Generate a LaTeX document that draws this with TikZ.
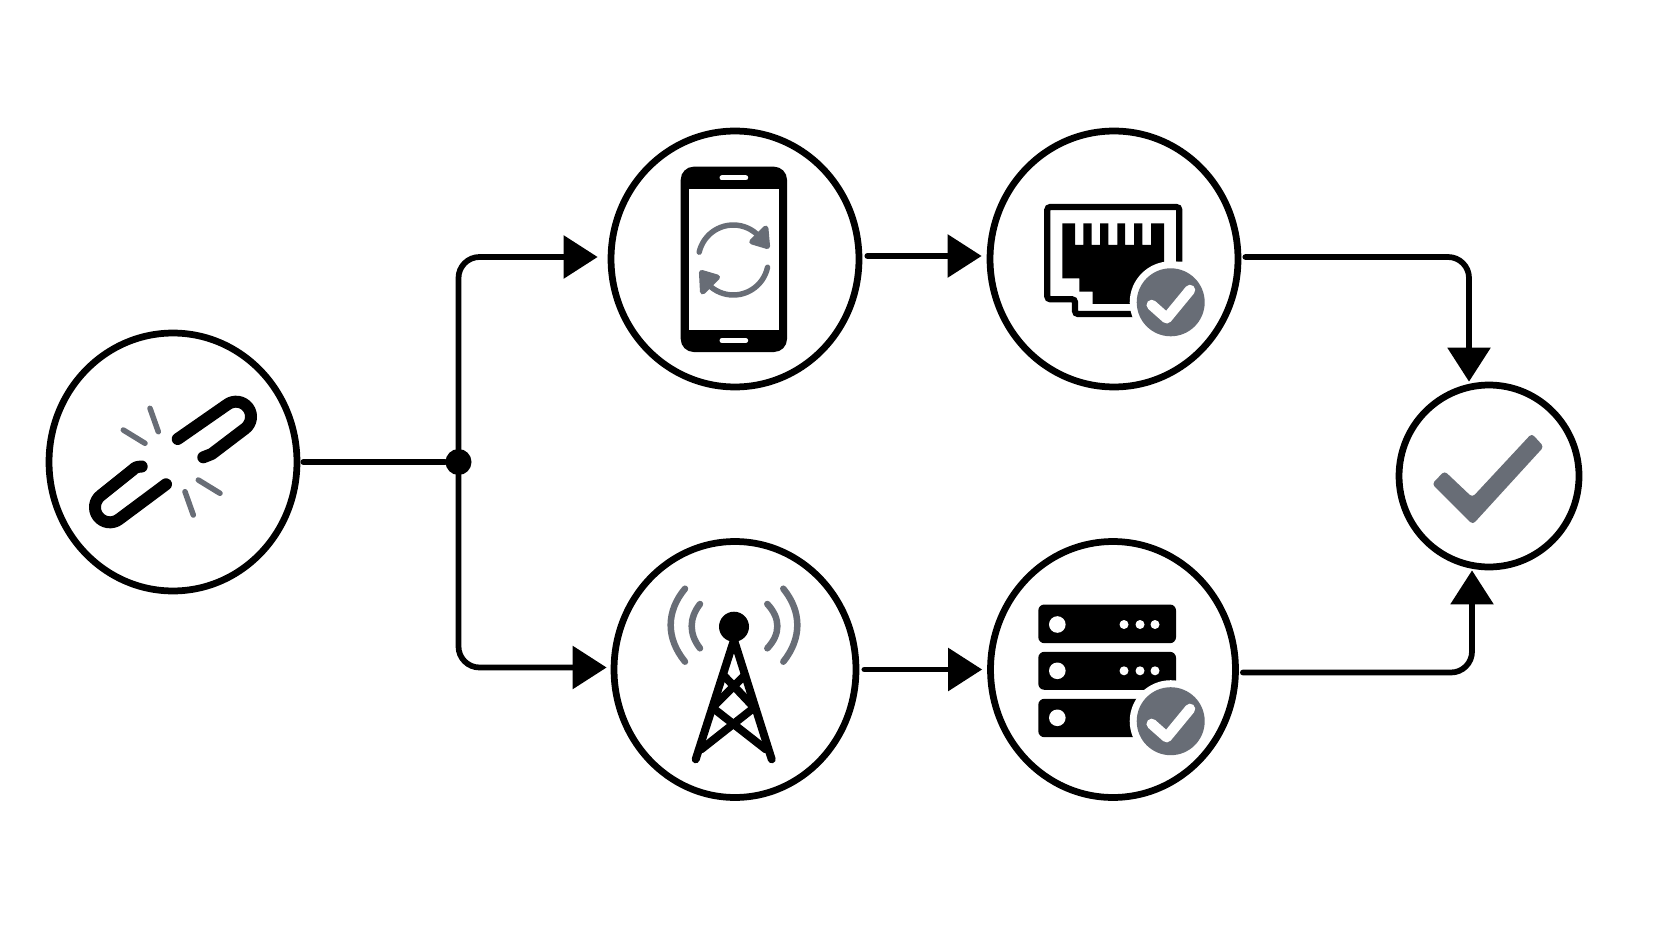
\documentclass[tikz,border=0pt]{standalone}
\usetikzlibrary{arrows.meta,shapes.geometric,calc}
\definecolor{GrisIcono}{RGB}{104,109,118}
\tikzset{
  ringbox/.style={ellipse, draw=black, line width=0.135cm, fill=white, inner sep=0pt,
    minimum width=#1},
  ringbox/.default=4.96cm,
  linkarr/.style={-{Triangle[length=0.68cm, width=0.84cm]}, line width=0.115cm, line cap=round, black},
  linkline/.style={line width=0.115cm, line cap=round, black},
  dotnode/.style={circle, fill=black, minimum size=0.52cm, inner sep=0pt},
  iconline/.style={line width=0.24cm, line cap=round, line join=round, black},
  towerline/.style={line width=0.16cm, line cap=round, line join=round, black},
  greyline/.style={line width=0.11cm, line cap=round, line join=round, GrisIcono},
  wave/.style={line width=0.13cm, line cap=round, GrisIcono},
  slotline/.style={line width=0.1cm, line cap=round, white},
  tickline/.style={line width=0.21cm, line cap=round, line join=round, white},
}
% grey disc with white tick, its white halo cuts the icon below
\newcommand{\okbadge}[2]{
  \fill[white] (#1,#2) circle (0.82cm);
  \fill[GrisIcono] (#1,#2) circle (0.68cm);
  \draw[tickline] ($(#1,#2)+(-19,-2.7)$) -- ($(#1,#2)+(-4,-16)$) -- ($(#1,#2)+(19.3,12.3)$);
}
\begin{document}
\begin{tikzpicture}[x=0.02cm, y=0.02cm]
  \useasboundingbox (0,0) rectangle (1672,941);
  \node[ringbox, minimum height=5.16cm] (link) at (173,479) {};
  \node[ringbox, minimum height=5.12cm] (phone) at (735,682) {};
  \node[ringbox, minimum height=5.12cm] (rj45) at (1114,682) {};
  \node[ringbox=4.84cm, minimum height=5.12cm] (tower) at (735,271.5) {};
  \node[ringbox=4.9cm, minimum height=5.12cm] (server) at (1113,271.5) {};
  \node[ringbox=3.6cm, minimum height=3.64cm] (check) at (1489,465) {};
  \node[dotnode] (junc) at (458.5,479) {};

  \draw[linkline, shorten <=0.06cm] (link.east) -- (junc);
  \draw[linkarr, rounded corners=0.42cm, shorten >=0.2cm] (junc.center) |- ([yshift=0.04cm]phone.west);
  \draw[linkarr, rounded corners=0.42cm, shorten >=0.08cm] (junc.center) |- ([yshift=0.04cm]tower.west);
  \draw[linkarr, shorten <=0.1cm, shorten >=0.1cm] ([yshift=0.06cm]phone.east) -- ([yshift=0.06cm]rj45.west);
  \draw[linkarr, shorten <=0.1cm, shorten >=0.1cm] (tower.east) -- (server.west);
  \draw[linkarr, rounded corners=0.42cm, shorten <=0.08cm] ([yshift=0.04cm]rj45.east) -| ([xshift=-0.4cm]check.north);
  \draw[linkarr, rounded corners=0.42cm, shorten <=0.08cm] ([yshift=-0.06cm]server.east) -| ([xshift=-0.34cm]check.south);

  % broken link
  \begin{scope}[shift={(link.center)}]
    \draw[iconline] (4.7,23) -- (54,57.3) arc[start angle=127, end angle=-53, radius=0.3cm]
      -- (38.7,8) .. controls (35,5.5) .. (30.3,4.7);
    \draw[iconline] (-7,-22.3) -- (-54,-57.3) arc[start angle=-53, end angle=-233, radius=0.3cm]
      -- (-41,-8.5) .. controls (-37,-5) .. (-31.3,-4.5);
    \draw[greyline] (-23,53.7) -- (-14.7,30.3);
    \draw[greyline] (-49.7,32) -- (-28,18.7);
    \draw[greyline] (12,-29.7) -- (20.3,-53);
    \draw[greyline] (25.3,-18) -- (47,-31.3);
  \end{scope}

  % phone with sync arrows
  \begin{scope}[shift={(phone.center)}]
    \fill[black, rounded corners=0.26cm] (-54.3,-93) rectangle (52,92.3);
    \fill[white] (-46.3,-71) rectangle (44.3,70.3);
    \draw[slotline] (-13,81) -- (10.7,81);
    \draw[slotline] (-13,-81.5) -- (10.7,-81.5);
    \draw[greyline] (-1.7,-1) ++(167:35) arc[start angle=167, end angle=30, radius=0.7cm];
    \draw[greyline, fill=GrisIcono] (30.7,30.7) -- (32.3,12.7) -- (17,17.3) -- cycle;
    \draw[greyline] (-1.7,-1) ++(-12:35) arc[start angle=-12, end angle=-143, radius=0.7cm];
    \draw[greyline, fill=GrisIcono] (-33.3,-13.7) -- (-32.3,-32.7) -- (-17.7,-18.3) -- cycle;
  \end{scope}

  % network socket
  \begin{scope}[shift={(rj45.center)}]
    \draw[line width=0.125cm, rounded corners=0.06cm, black] (65.3,-2.7) -- (65.3,52) -- (-66.7,52)
      -- (-66.7,-40.3) -- (-39,-40.3) -- (-39,-55) -- (19.7,-55);
    \fill[black] (-51.7,35.7) -- (-39,35.7) -- (-39,14) -- (-30.7,14) -- (-30.7,35.7)
      -- (-22.3,35.7) -- (-22.3,14) -- (-14,14) -- (-14,35.7) -- (-5.7,35.7) -- (-5.7,14)
      -- (3.3,14) -- (3.3,35.7) -- (11,35.7) -- (11,14) -- (20,14) -- (20,35.7) -- (28.3,35.7)
      -- (28.3,14) -- (37,14) -- (37,35.7) -- (50,35.7) -- (50,-14.3) -- (19.3,-45) -- (-21.3,-45)
      -- (-21.3,-32.7) -- (-34.7,-32.7) -- (-34.7,-19.3) -- (-51.7,-19.3) -- cycle;
    \okbadge{56.7}{-43.3}
  \end{scope}

  % radio tower
  \begin{scope}[shift={(tower.center)}]
    \draw[towerline] (-39.3,-89.8) -- (-1,29.5) -- (36.7,-89.8);
    \draw[towerline] (-11.7,-5.5) -- (18.3,-37.2);
    \draw[towerline] (10,-5.5) -- (-20,-35.5);
    \draw[towerline] (-21.7,-38.8) -- (31,-80);
    \draw[towerline] (18.3,-38.8) -- (-34,-80);
    \fill[black] (-1,42.8) circle (0.3cm);
    \draw[wave] (-35,65.5) .. controls (-46.1,51.2) and (-46.1,35.5) .. (-35,21.2);
    \draw[wave] (-50,80.8) .. controls (-69.1,57.8) and (-69.1,31.2) .. (-50,7.8);
    \draw[wave] (32.3,65.5) .. controls (45.7,51.2) and (45.7,35.5) .. (32.3,21.2);
    \draw[wave] (48.3,80.8) .. controls (67,57.8) and (67,31.2) .. (48.3,7.8);
  \end{scope}

  % server rack
  \begin{scope}[shift={(server.center)}]
    \fill[black, rounded corners=0.12cm] (-74.7,26.3) rectangle (63,65);
    \fill[black, rounded corners=0.12cm] (-74.7,-20.3) rectangle (63,17.7);
    \fill[black, rounded corners=0.12cm] (-74.7,-67.7) rectangle (63,-29.3);
    \fill[white] (-55.7,45) circle (0.166cm);
    \fill[white] (-55.7,-1.3) circle (0.166cm);
    \fill[white] (-55.7,-48.3) circle (0.166cm);
    \fill[white] (11,45) circle (0.09cm);
    \fill[white] (27,45) circle (0.09cm);
    \fill[white] (42,45) circle (0.09cm);
    \fill[white] (11,-1.3) circle (0.09cm);
    \fill[white] (27,-1.3) circle (0.09cm);
    \fill[white] (42,-1.3) circle (0.09cm);
    \okbadge{57.7}{-51.7}
  \end{scope}

  % final tick
  \begin{scope}[shift={(check.center)}]
    \fill[GrisIcono, rounded corners=0.07cm] (-44.5,5) -- (-16.7,-21.3) -- (42.7,42.5) -- (54.8,29.3)
      -- (-16.3,-48.5) -- (-57,-8) -- cycle;
  \end{scope}
\end{tikzpicture}
\end{document}
